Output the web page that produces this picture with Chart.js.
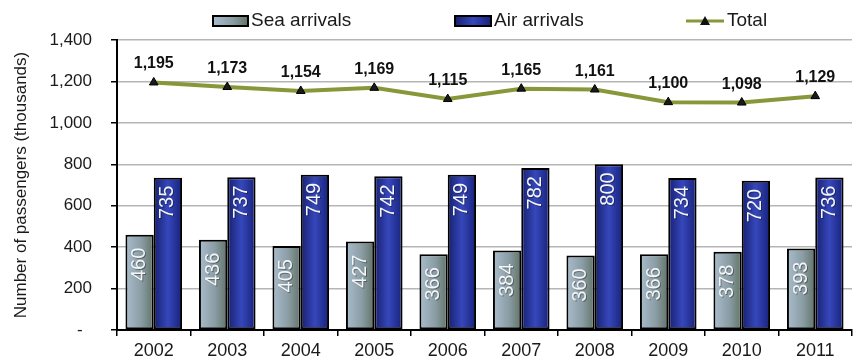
<!DOCTYPE html>
<html>
<head>
<meta charset="utf-8">
<script src="https://cdn.jsdelivr.net/npm/chart.js@4/dist/chart.umd.min.js"></script>
<style>
	html,body{margin:0;padding:0;background:#fff;}
	#wrap{width:858px;height:363px;position:relative;}
</style>
</head>
<body>
<div id="wrap"><canvas id="arrivals"></canvas></div>
<script>
// Passenger arrivals, thousands
const years = ['2002','2003','2004','2005','2006','2007','2008','2009','2010','2011'];
const seaArrivals = [460, 436, 405, 427, 366, 384, 360, 366, 378, 393];
const airArrivals = [735, 737, 749, 742, 749, 782, 800, 734, 720, 736];
const totalArrivals = [1195, 1173, 1154, 1169, 1115, 1165, 1161, 1100, 1098, 1129];
const yTicks = [0, 200, 400, 600, 800, 1000, 1200, 1400];

const FONT = '"Liberation Sans", Arial, sans-serif';
const CAT_PCT = 0.77;
const OLIVE = '#8a963a';

// horizontal gradient across one bar; side 0 = left bar of the pair, 1 = right
function barGradient(c, side, stops){
	if(c.type !== 'data') return stops[0][1];
	const chart = c.chart, xs = chart.scales.x;
	if(!xs || !xs.width) return stops[0][1];
	const center = xs.getPixelForValue(c.dataIndex);
	const half = xs.width / years.length * CAT_PCT / 2;
	const x0 = side === 0 ? center - half : center;
	const g = chart.ctx.createLinearGradient(x0, 0, x0 + half, 0);
	stops.forEach(s => g.addColorStop(s[0], s[1]));
	return g;
}
const seaStops = [[0,'#a9bccb'],[0.55,'#8b9ea6'],[1,'#627367']];
const airStops = [[0,'#16206f'],[0.5,'#3647bb'],[1,'#17227a']];

// value labels: rotated inside the bars, bold above the total line
const valueLabels = {
	id:'valueLabels',
	afterDatasetsDraw(chart){
		const ctx = chart.ctx;
		chart.data.datasets.forEach((ds, di) => {
			const meta = chart.getDatasetMeta(di);
			meta.data.forEach((el, i) => {
				const txt = ds.data[i].toLocaleString('en-US');
				ctx.save();
				if(ds.type === 'line'){
					ctx.font = 'bold 16px ' + FONT;
					ctx.fillStyle = '#111';
					ctx.textAlign = 'center';
					ctx.textBaseline = 'alphabetic';
					ctx.fillText(txt, el.x, el.y - 14);
				} else {
					ctx.translate(el.x, el.y + (di === 0 ? 13 : 8));
					ctx.rotate(-Math.PI/2);
					ctx.font = '20px ' + FONT;
					ctx.textAlign = 'right';
					ctx.textBaseline = 'middle';
					ctx.fillStyle = 'rgba(0,0,0,0.35)';
					ctx.fillText(txt, -1, 1);
					ctx.fillStyle = '#f4f6f8';
					ctx.fillText(txt, 0, 0);
				}
				ctx.restore();
			});
		});
	}
};

// legend row across the top
const topLegend = {
	id:'topLegend',
	afterDraw(chart){
		const ctx = chart.ctx, y = 21;
		ctx.save();
		ctx.font = '19px ' + FONT;
		ctx.textBaseline = 'middle';
		ctx.fillStyle = '#1a1a1a';

		const box = (x, w, stops) => {
			const g = ctx.createLinearGradient(x, 0, x + w, 0);
			stops.forEach(s => g.addColorStop(s[0], s[1]));
			ctx.fillStyle = g; ctx.fillRect(x, 16, w, 10);
			ctx.strokeStyle = '#000'; ctx.lineWidth = 2; ctx.strokeRect(x, 16, w, 10);
		};
		box(213, 35, seaStops);
		ctx.fillStyle = '#1a1a1a'; ctx.fillText(chart.data.datasets[0].label, 251, y);
		box(455, 36, airStops);
		ctx.fillStyle = '#1a1a1a'; ctx.fillText(chart.data.datasets[1].label, 494, y);

		ctx.strokeStyle = OLIVE; ctx.lineWidth = 3;
		ctx.beginPath(); ctx.moveTo(686, y); ctx.lineTo(724, y); ctx.stroke();
		ctx.fillStyle = '#111';
		ctx.beginPath(); ctx.moveTo(705, y - 5); ctx.lineTo(710, y + 4); ctx.lineTo(700, y + 4); ctx.closePath(); ctx.fill();
		ctx.fillStyle = '#1a1a1a'; ctx.fillText(chart.data.datasets[2].label, 727, y);
		ctx.restore();
	}
};

new Chart(document.getElementById('arrivals'), {
	type:'bar',
	data:{
		labels: years,
		datasets:[
			{ label:'Sea arrivals', data: seaArrivals, order:1,
			  backgroundColor: c => barGradient(c, 0, seaStops),
			  borderColor:'#000', borderWidth:2, borderSkipped:false,
			  categoryPercentage: CAT_PCT, barPercentage:1 },
			{ label:'Air arrivals', data: airArrivals, order:1,
			  backgroundColor: c => barGradient(c, 1, airStops),
			  borderColor:'#000', borderWidth:2, borderSkipped:false,
			  categoryPercentage: CAT_PCT, barPercentage:1 },
			{ type:'line', label:'Total', data: totalArrivals, order:0,
			  borderColor: OLIVE, borderWidth:4, tension:0, fill:false,
			  pointStyle:'triangle', pointRadius:5, pointBackgroundColor:'#1a1a1a',
			  pointBorderColor:'#000', pointBorderWidth:1 }
		]
	},
	options:{
		responsive:true, maintainAspectRatio:false, animation:false,
		layout:{ padding:{ top:40, left:0, right:0, bottom:0 } },
		plugins:{ legend:{ display:false }, tooltip:{ enabled:false } },
		scales:{
			x:{
				grid:{ offset:true, drawOnChartArea:false, drawTicks:true, tickLength:6, tickColor:'#000', lineWidth:1.5 },
				border:{ color:'#000', width:2 },
				ticks:{ color:'#1a1a1a', font:{ family:FONT, size:18 }, padding:4, maxRotation:0 },
				afterFit: s => { s.height = 33; }
			},
			y:{
				min: yTicks[0], max: yTicks[yTicks.length-1],
				afterBuildTicks: s => { s.ticks = yTicks.map(v => ({ value:v })); },
				grid:{ color:'#b5b5b5', lineWidth:1.5, tickLength:6, tickColor:'#000' },
				border:{ color:'#000', width:2 },
				ticks:{ color:'#1a1a1a', font:{ family:FONT, size:17 }, padding:19,
					callback: v => v === 0 ? '-  ' : v.toLocaleString('en-US') },
				title:{ display:true, text:'Number of passengers (thousands)', color:'#1a1a1a',
					font:{ family:FONT, size:17 }, padding:{ top:11, bottom:0 } },
				afterFit: s => { s.width = 117; }
			}
		}
	},
	plugins:[valueLabels, topLegend]
});
</script>
</body>
</html>
